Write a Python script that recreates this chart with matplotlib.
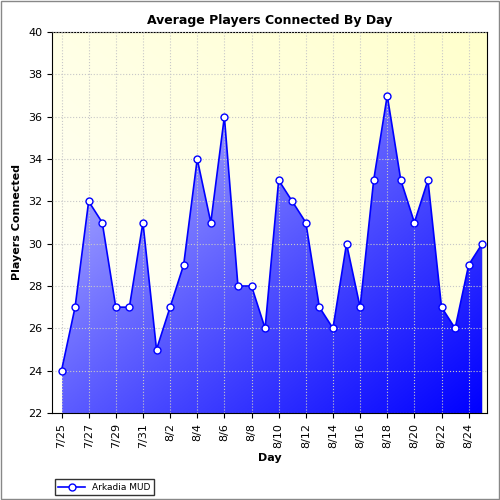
import matplotlib
matplotlib.use("Agg")
import matplotlib.pyplot as plt
import numpy as np
from matplotlib.patches import Polygon

days = ["7/25", "7/26", "7/27", "7/28", "7/29", "7/30", "7/31", "8/1", "8/2", "8/3",
        "8/4", "8/5", "8/6", "8/7", "8/8", "8/9", "8/10", "8/11", "8/12", "8/13",
        "8/14", "8/15", "8/16", "8/17", "8/18", "8/19", "8/20", "8/21", "8/22", "8/23",
        "8/24", "8/25"]
players = [24, 27, 32, 31, 27, 27, 31, 25, 27, 29,
           34, 31, 36, 28, 28, 26, 33, 32, 31, 27,
           26, 30, 27, 33, 37, 33, 31, 33, 27, 26,
           29, 30]

x = np.arange(len(days))
fig = plt.figure(figsize=(5, 5), dpi=100)
fig.patch.set_facecolor("white")
ax = fig.add_axes([0.104, 0.174, 0.87, 0.762])
xmin, xmax = -0.7, len(days) - 0.65
ymin, ymax = 22, 40

# background gradient: white at left/bottom to pale yellow at top right
gx, gy = np.meshgrid(np.linspace(0, 1, 200), np.linspace(1, 0, 200))
t = np.clip((gx + gy) / 2, 0, 1)
bg = np.dstack([np.ones_like(t), np.ones_like(t), 1 - 0.2 * t])
ax.imshow(bg, extent=[xmin, xmax, ymin, ymax], aspect="auto", zorder=0)

# area fill with gradient
verts = [(x[0], ymin)] + list(zip(x, players)) + [(x[-1], ymin)]
poly = Polygon(verts, closed=True, facecolor="none", edgecolor="none")
ax.add_patch(poly)
t2 = np.clip((gx + (1 - gy)) / 2, 0, 1) ** 0.8
fill = np.dstack([0.85 * (1 - t2), 0.85 * (1 - t2), np.ones_like(t2)])
im = ax.imshow(fill, extent=[x[0], x[-1], ymin, 38], aspect="auto", zorder=1)
im.set_clip_path(poly)

ax.plot(x, players, color="#0000ff", lw=1.2, marker="o", ms=5,
        mfc="white", mec="#0000ff", mew=1, zorder=3, label="Arkadia MUD")

ax.set_xlim(xmin, xmax)
ax.set_ylim(ymin, ymax)
ax.set_yticks(range(22, 41, 2))
ax.set_xticks(x[::2])
ax.set_xticklabels(days[::2], rotation=90)
ax.tick_params(labelsize=8)
ax.grid(True, color="#c8c8c8", ls=":", lw=0.8, zorder=0.5)
ax.set_axisbelow(False)
ax.set_title("Average Players Connected By Day", fontsize=9, fontweight="bold")
ax.set_xlabel("Day", fontsize=8, fontweight="bold")
ax.set_ylabel("Players Connected", fontsize=8, fontweight="bold")

fig.legend(loc="lower left", bbox_to_anchor=(0.1, 0.0), fontsize=6.5,
           frameon=True, fancybox=False, edgecolor="black", handlelength=3)
fig.add_artist(plt.Rectangle((0.002, 0.002), 0.996, 0.996, transform=fig.transFigure,
                             fill=False, edgecolor="#888888", lw=1))
fig.savefig("out.png", dpi=100)
